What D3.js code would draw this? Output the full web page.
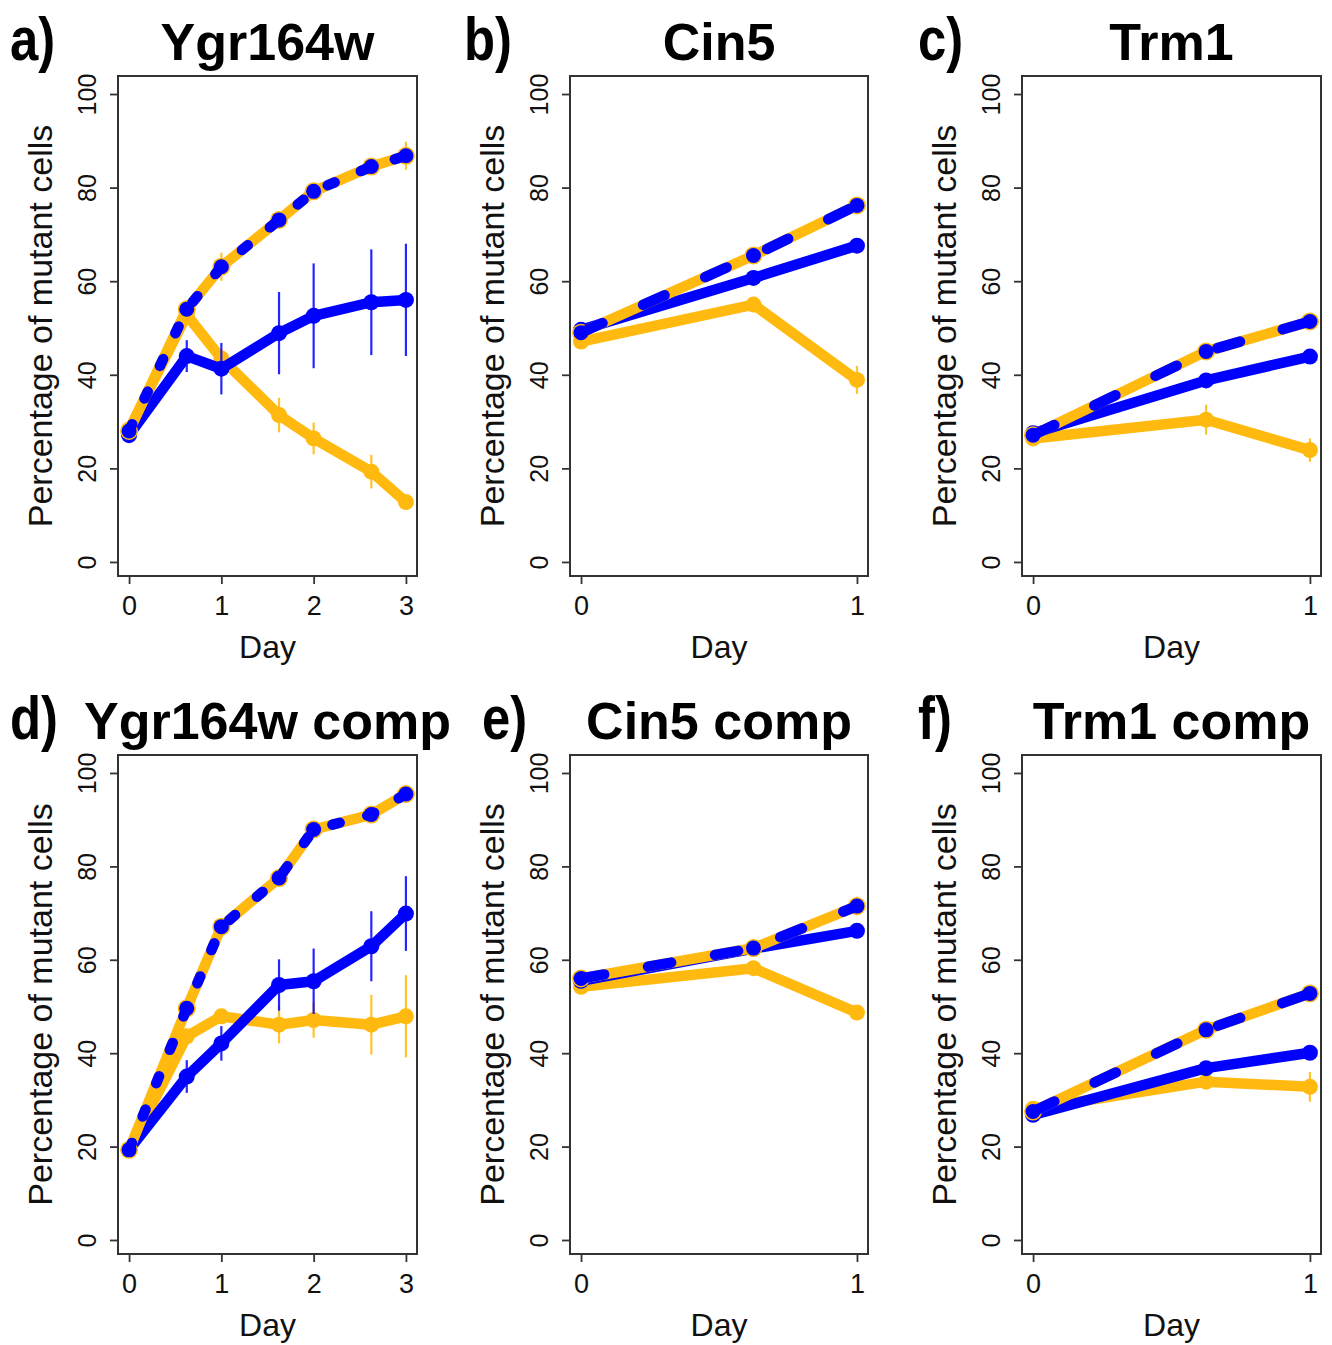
<!DOCTYPE html>
<html><head><meta charset="utf-8">
<script src="https://cdn.jsdelivr.net/npm/d3@7"></script>
<style>body{margin:0;background:#fff}svg{display:block}</style>
</head><body>
<script>
// ---------------- data ----------------
const days3 = [0, 0.625, 1, 1.625, 2, 2.625, 3];
const days1 = [0, 0.625, 1];
const yTicks = [0, 20, 40, 60, 80, 100];
const xTicks3 = [0, 1, 2, 3];
const xTicks1 = [0, 1];
const panelLetters = ["a)", "b)", "c)", "d)", "e)", "f)"];
const panelTitles = ["Ygr164w", "Cin5", "Trm1", "Ygr164w comp", "Cin5 comp", "Trm1 comp"];
const xLabel = "Day";
const yLabel = "Percentage of mutant cells";

// a) Ygr164w
const blueA = [27.1, 44.0, 41.3, 48.9, 52.6, 55.5, 56.0];
const blueErrA = [0.5, 3.4, 5.5, 8.8, 11.2, 11.3, 12.0];
const goldA = [28.3, 52.8, 43.5, 31.4, 26.4, 19.3, 12.8];
const goldErrA = [0.8, 1.5, 2.0, 3.7, 3.4, 3.6, 1.5];
const mixA = [28.0, 54.0, 63.1, 73.1, 79.2, 84.5, 86.8];
const mixErrA = [0.8, 1.5, 3.0, 1.5, 1.5, 1.5, 3.0];
// b) Cin5
const blueB = [49.6, 60.7, 67.6];
const blueErrB = [0.5, 0.8, 0.8];
const goldB = [47.1, 55.0, 38.9];
const goldErrB = [1.0, 1.0, 3.0];
const mixB = [49.0, 65.5, 76.2];
const mixErrB = [0.5, 0.8, 1.0];
// c) Trm1
const blueC = [27.5, 38.8, 43.9];
const blueErrC = [0.5, 0.8, 0.8];
const goldC = [26.4, 30.4, 23.9];
const goldErrC = [0.5, 3.2, 2.5];
const mixC = [27.1, 45.0, 51.4];
const mixErrC = [0.5, 0.8, 1.0];
// d) Ygr164w comp
const blueD = [19.3, 35.0, 42.1, 54.6, 55.4, 62.9, 69.9];
const blueErrD = [0.8, 3.5, 3.7, 5.5, 7.0, 7.5, 8.0];
const goldD = [19.3, 43.6, 47.9, 46.1, 47.1, 46.1, 47.9];
const goldErrD = [0.5, 1.0, 1.5, 4.0, 3.8, 6.4, 8.8];
const mixD = [19.3, 49.6, 67.1, 77.5, 87.9, 91.1, 95.5];
const mixErrD = [0.5, 1.0, 1.0, 1.0, 1.0, 1.0, 1.0];
// e) Cin5 comp
const blueE = [55.5, 62.4, 66.2];
const blueErrE = [0.5, 0.8, 0.8];
const goldE = [54.2, 58.2, 48.7];
const goldErrE = [0.5, 0.8, 0.8];
const mixE = [56.0, 62.5, 71.5];
const mixErrE = [0.5, 0.8, 2.0];
// f) Trm1 comp
const blueF = [26.8, 36.8, 40.1];
const blueErrF = [0.5, 0.8, 0.8];
const goldF = [28.1, 33.9, 32.8];
const goldErrF = [0.5, 1.5, 3.2];
const mixF = [27.5, 45.0, 52.8];
const mixErrF = [0.5, 0.8, 1.0];

const panels = [
  {days: days3, xTicks: xTicks3, blue: blueA, blueErr: blueErrA, gold: goldA, goldErr: goldErrA, mix: mixA, mixErr: mixErrA},
  {days: days1, xTicks: xTicks1, blue: blueB, blueErr: blueErrB, gold: goldB, goldErr: goldErrB, mix: mixB, mixErr: mixErrB},
  {days: days1, xTicks: xTicks1, blue: blueC, blueErr: blueErrC, gold: goldC, goldErr: goldErrC, mix: mixC, mixErr: mixErrC},
  {days: days3, xTicks: xTicks3, blue: blueD, blueErr: blueErrD, gold: goldD, goldErr: goldErrD, mix: mixD, mixErr: mixErrD},
  {days: days1, xTicks: xTicks1, blue: blueE, blueErr: blueErrE, gold: goldE, goldErr: goldErrE, mix: mixE, mixErr: mixErrE},
  {days: days1, xTicks: xTicks1, blue: blueF, blueErr: blueErrF, gold: goldF, goldErr: goldErrF, mix: mixF, mixErr: mixErrF}
];

// ---------------- layout / style ----------------
const W = 1332, H = 1345;
const FONT = '"Liberation Sans", Arial, Helvetica, sans-serif';
const BLUE = "#0000FF", GOLD = "#FFB90F", AXIS = "#333333", TEXT = "#111111";
const cols = [{l: 118, r: 417}, {l: 570, r: 868}, {l: 1022, r: 1321}];
const rows = [{t: 76, b: 576}, {t: 755, b: 1254}];
const lettersX = [10, 464, 918, 10, 482, 918];
const LW = 10.5, R = 8;

const svg = d3.select("body").append("svg").attr("width", W).attr("height", H)
  .style("font-family", FONT);
svg.append("rect").attr("width", W).attr("height", H).attr("fill", "#fff");

panels.forEach((p, i) => {
  const c = cols[i % 3], r = rows[Math.floor(i / 3)];
  const maxDay = d3.max(p.days);
  const pad = maxDay * 0.04;
  const x = d3.scaleLinear().domain([-pad, maxDay + pad]).range([c.l, c.r]);
  const y = d3.scaleLinear().domain([-3, 103.85]).range([r.b, r.t]);
  const g = svg.append("g");
  const line = d3.line().x((d, j) => x(p.days[j])).y(d => y(d));
  const dashLen = maxDay > 1 ? 18 : 34;

  function solid(vals, color) {
    g.append("path").attr("d", line(vals)).attr("fill", "none").attr("stroke", color)
      .attr("stroke-width", LW).attr("stroke-linejoin", "round").attr("stroke-linecap", "round");
    g.selectAll(null).data(vals).enter().append("circle")
      .attr("cx", (d, j) => x(p.days[j])).attr("cy", d => y(d)).attr("r", R).attr("fill", color);
  }
  function errs(vals, e, color) {
    g.selectAll(null).data(vals).enter().append("line")
      .attr("x1", (d, j) => x(p.days[j])).attr("x2", (d, j) => x(p.days[j]))
      .attr("y1", (d, j) => y(d - e[j])).attr("y2", (d, j) => y(d + e[j]))
      .attr("stroke", color).attr("stroke-width", 2.2).attr("opacity", 0.85);
  }

  solid(p.gold, GOLD);
  errs(p.gold, p.goldErr, GOLD);
  solid(p.blue, BLUE);
  errs(p.blue, p.blueErr, BLUE);
  // mixed (dashed blue over gold)
  g.append("path").attr("d", line(p.mix)).attr("fill", "none").attr("stroke", GOLD)
    .attr("stroke-width", LW).attr("stroke-linejoin", "round").attr("stroke-linecap", "round");
  g.selectAll(null).data(p.mix).enter().append("circle")
    .attr("cx", (d, j) => x(p.days[j])).attr("cy", d => y(d)).attr("r", R + 1).attr("fill", GOLD);
  errs(p.mix, p.mixErr, GOLD);
  g.append("path").attr("d", line(p.mix)).attr("fill", "none").attr("stroke", BLUE)
    .attr("stroke-width", LW).attr("stroke-linecap", "round")
    .attr("stroke-dasharray", `${dashLen - LW},${dashLen + LW}`);
  g.selectAll(null).data(p.mix).enter().append("circle")
    .attr("cx", (d, j) => x(p.days[j])).attr("cy", d => y(d)).attr("r", R - 0.5).attr("fill", BLUE);

  // box
  g.append("rect").attr("x", c.l).attr("y", r.t).attr("width", c.r - c.l).attr("height", r.b - r.t)
    .attr("fill", "none").attr("stroke", AXIS).attr("stroke-width", 2);

  // y axis
  const yg = g.append("g").attr("transform", `translate(${c.l},0)`)
    .call(d3.axisLeft(y).tickValues(yTicks).tickSize(8).tickSizeOuter(0));
  yg.select(".domain").remove();
  yg.selectAll(".tick line").attr("stroke", AXIS).attr("stroke-width", 1.8);
  yg.selectAll(".tick text").attr("x", null).attr("dy", null)
    .attr("transform", "translate(-22,0) rotate(-90)").attr("text-anchor", "middle")
    .attr("fill", TEXT).style("font-size", "25px").style("font-family", FONT);

  // x axis
  const xg = g.append("g").attr("transform", `translate(0,${r.b})`)
    .call(d3.axisBottom(x).tickValues(p.xTicks).tickFormat(d3.format("d")).tickSize(8).tickSizeOuter(0));
  xg.select(".domain").remove();
  xg.selectAll(".tick line").attr("stroke", AXIS).attr("stroke-width", 1.8);
  xg.selectAll(".tick text").attr("y", 39).attr("dy", null)
    .attr("fill", TEXT).style("font-size", "27px").style("font-family", FONT);

  const cx = (c.l + c.r) / 2, cy = (r.t + r.b) / 2;
  // axis labels
  g.append("text").attr("x", cx).attr("y", r.b + 82).attr("text-anchor", "middle")
    .attr("fill", TEXT).style("font-size", "32px").text(xLabel);
  g.append("text").attr("transform", `translate(${c.l - 66},${cy}) rotate(-90)`)
    .attr("text-anchor", "middle").attr("fill", TEXT).style("font-size", "34px").text(yLabel);
  // title
  g.append("text").attr("x", cx).attr("y", r.t - 16).attr("text-anchor", "middle")
    .attr("fill", "#000").style("font-size", "52px").style("font-weight", "bold").text(panelTitles[i]);
  // panel letter
  g.append("text").attr("transform", `translate(${lettersX[i]},${r.t - 16}) scale(0.82,1)`)
    .attr("fill", "#000").style("font-size", "62px").style("font-weight", "bold").text(panelLetters[i]);
});
</script>
</body></html>
